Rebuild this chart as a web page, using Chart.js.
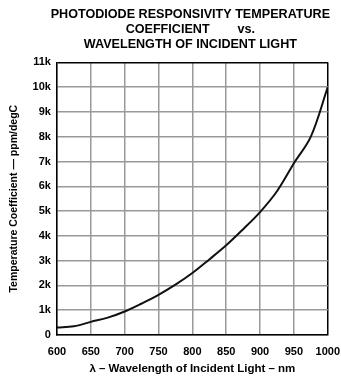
<!DOCTYPE html>
<html>
<head>
<meta charset="utf-8">
<script src="https://cdn.jsdelivr.net/npm/chart.js@4/dist/chart.umd.min.js"></script>
<style>
  html, body { margin: 0; padding: 0; background: #fff; }
  #wrap { width: 341px; height: 378px; }
</style>
</head>
<body>
<div id="wrap"><canvas id="myChart"></canvas></div>
<script>
// wavelength (nm) and temp coefficient (ppm/degC)
var wavelength = [600, 625, 650, 675, 700, 725, 750, 775, 800, 825, 850, 875, 900, 925, 950, 975, 1000];
var tempCoeff = [300, 350, 530, 700, 950, 1270, 1620, 2030, 2500, 3050, 3620, 4270, 4960, 5800, 6930, 8000, 10000];

var titleLines = ['PHOTODIODE RESPONSIVITY TEMPERATURE', 'COEFFICIENT        vs.', 'WAVELENGTH OF INCIDENT LIGHT'];
var xTitle = '\u03BB \u2013 Wavelength of Incident Light \u2013 nm';
var yTitle = 'Temperature Coefficient \u2014 ppm/degC';

var pts = wavelength.map(function (w, i) { return { x: w, y: tempCoeff[i] }; });

Chart.defaults.font.family = '"Liberation Sans", Arial, sans-serif';
Chart.defaults.color = '#000';

// center the title over the plot area instead of the whole canvas
var centerTitle = {
  id: 'centerTitle',
  afterLayout: function (chart) {
    if (chart.titleBlock) {
      var cx = (chart.chartArea.left + chart.chartArea.right) / 2 - 2;
      chart.titleBlock.left = cx - 165;
      chart.titleBlock.right = cx + 165;
    }
  }
};

var ctx = document.getElementById('myChart').getContext('2d');
var chart = new Chart(ctx, {
  type: 'line',
  data: {
    datasets: [{
      data: pts,
      borderColor: '#111',
      borderWidth: 2,
      pointRadius: 0,
      tension: 0.35,
      fill: false
    }]
  },
  options: {
    responsive: true,
    maintainAspectRatio: false,
    animation: false,
    layout: { padding: { left: 8, right: 0, top: 5, bottom: 2 } },
    plugins: {
      legend: { display: false },
      tooltip: { enabled: false },
      title: {
        display: true,
        text: titleLines,
        font: { size: 12.6, weight: 'bold' },
        lineHeight: 1.15,
        padding: { top: 2, bottom: 10 }
      }
    },
    scales: {
      x: {
        type: 'linear',
        min: 600,
        max: 1000,
        ticks: {
          stepSize: 50,
          font: { size: 11, weight: 'bold' },
          padding: 1,
          maxRotation: 0,
          callback: function (v) { return String(v); }
        },
        grid: {
          drawTicks: true,
          tickLength: 9,
          tickColor: 'rgba(0,0,0,0)',
          lineWidth: 1.5,
          color: function (c) { return c.tick && c.tick.value === 1000 ? '#000' : '#999'; }
        },
        border: { color: '#000', width: 1.5 },
        title: {
          display: true,
          text: xTitle,
          font: { size: 11.5, weight: 'bold' },
          padding: { top: 3, bottom: 0 }
        }
      },
      y: {
        min: 0,
        max: 11000,
        ticks: {
          stepSize: 1000,
          font: { size: 11, weight: 'bold' },
          padding: 6,
          callback: function (v) { return v === 0 ? '0' : (v / 1000) + 'k'; }
        },
        grid: {
          drawTicks: false,
          lineWidth: 1.5,
          color: function (c) { return c.tick && c.tick.value === 11000 ? '#000' : '#999'; }
        },
        border: { color: '#000', width: 1.5 },
        title: {
          display: true,
          text: yTitle,
          font: { size: 10.5, weight: 'bold' },
          padding: { top: 0, bottom: 6 }
        }
      }
    }
  },
  plugins: [centerTitle]
});
</script>
</body>
</html>
